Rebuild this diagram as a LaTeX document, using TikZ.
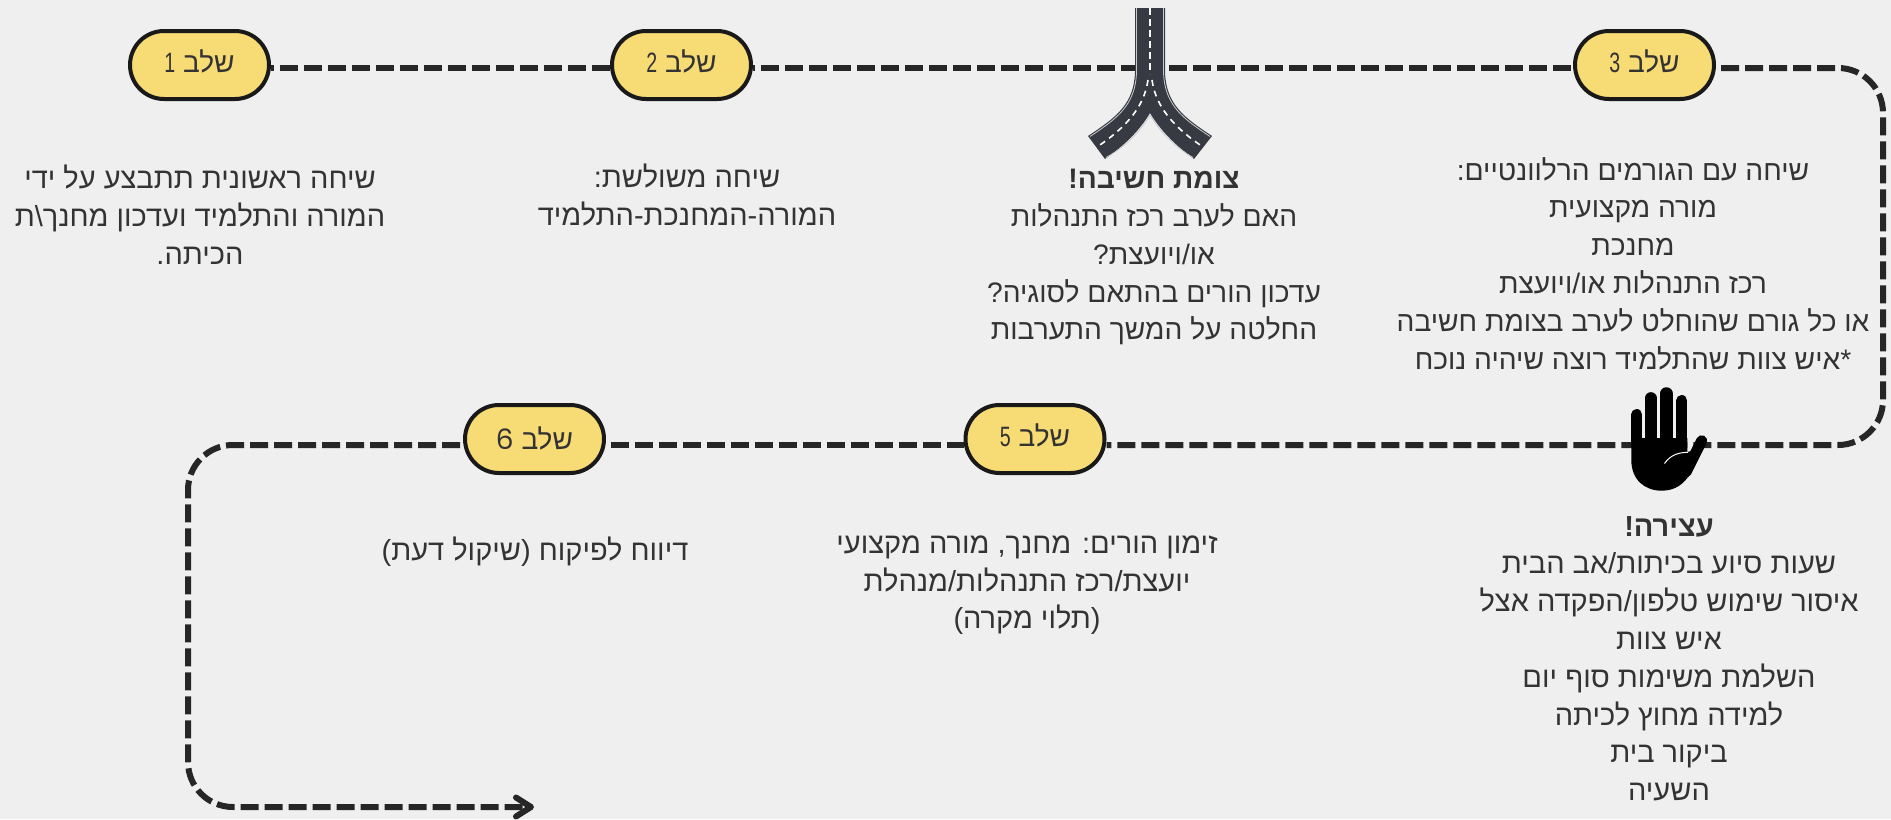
\documentclass[tikz,border=0pt]{standalone}
\usepackage{fontspec}
\usepackage{graphicx}
\setmainfont[Script=Hebrew]{Liberation Sans}
\newfontfamily\sixfont{Poppins}
\TeXXeTstate=1
\usepackage{tikz}
\usetikzlibrary{arrows.meta, backgrounds, positioning}
\definecolor{pagebg}{HTML}{EFEFEF}
\definecolor{pillfill}{HTML}{F7DB75}
\definecolor{inkline}{HTML}{262626}
\definecolor{inktext}{HTML}{333333}
\definecolor{roadbody}{HTML}{373A42}
\definecolor{roadedge}{HTML}{C9CBCF}
\newcommand{\rl}[1]{\beginR#1\endR}
\newcommand{\stepnum}[1]{\scalebox{0.7}[1]{#1}}

\begin{document}
\begin{tikzpicture}[x=1pt, y=-1pt,
    stepnode/.style={draw=black!90, fill=pillfill, line width=4pt, rounded corners=34pt,
        minimum width=139pt, minimum height=68pt, inner sep=0pt, text=inktext,
        text height=17pt, text depth=3pt, font=\fontsize{28}{34}\selectfont},
    infotext/.style={align=center, anchor=north, inner sep=0pt, text=inktext,
        font=\fontsize{29}{37.8}\selectfont},
    infotight/.style={infotext, font=\fontsize{28.2}{37.8}\selectfont},
    flowline/.style={draw=inkline, line width=6pt, dash pattern=on 18pt off 6pt}]
    % Nodes
    \node[stepnode] (s1) at (199.5, 65) {\stepnum{1} \rl{שלב}};
    \node[stepnode] (s2) at (681.5, 65) {\stepnum{2} \rl{שלב}};
    \node[stepnode] (s3) at (1644.5, 65) {\stepnum{3} \rl{שלב}};
    \node[stepnode] (s5) at (1035, 439) {\stepnum{5} \rl{שלב}};
    \node[stepnode, text height=20pt, text depth=0pt] (s6) at (534.5, 439) {{\sixfont 6} \rl{שלב}};

    % Texts
    \node[infotext] (t1) at (200, 165) {\rl{שיחה ראשונית תתבצע על ידי}\\\rl{המורה והתלמיד ועדכון מחנך\textbackslash ת}\\\rl{הכיתה.}};
    \node[infotext] (t2) at (687, 164) {\rl{שיחה משולשת:}\\\rl{המורה-המחנכת-התלמיד}};
    \node[infotight] (t3) at (1154, 169) {\rl{\textbf{צומת חשיבה!}}\\\rl{האם לערב רכז התנהלות}\\\rl{או/ויועצת?}\\\rl{עדכון הורים בהתאם לסוגיה?}\\\rl{החלטה על המשך התערבות}};
    \node[infotight] (t4) at (1633, 157) {\rl{שיחה עם הגורמים הרלוונטיים:}\\\rl{מורה מקצועית}\\\rl{מחנכת}\\\rl{רכז התנהלות או/ויועצת}\\\rl{או כל גורם שהוחלט לערב בצומת חשיבה}\\\rl{*איש צוות שהתלמיד רוצה שיהיה נוכח}};
    \node[infotext] (t5) at (1669, 516) {\rl{\textbf{עצירה!}}\\\rl{שעות סיוע בכיתות/אב הבית}\\\rl{איסור שימוש טלפון/הפקדה אצל}\\\rl{איש צוות}\\\rl{השלמת משימות סוף יום}\\\rl{למידה מחוץ לכיתה}\\\rl{ביקור בית}\\\rl{השעיה}};
    \node[infotext] (t6) at (1027, 535.5) {\rl{זימון הורים: מחנך, מורה מקצועי}\\\rl{יועצת/רכז התנהלות/מנהלת}\\\rl{(תלוי מקרה)}};
    \node[infotext] (t7) at (535, 537) {\rl{דיווח לפיקוח (שיקול דעת)}};

    % Corners of the line
    \coordinate (cornerNE) at (1883, 68);
    \coordinate (cornerSE) at (1883, 445);
    \coordinate (cornerNW) at (188, 445);
    \coordinate (cornerSW) at (188, 807);
    \coordinate (lineend) at (534, 807);

    % Edges
    \begin{scope}[on background layer]
        \fill[pagebg] (0, 0) rectangle (1891, 819);
        \draw[flowline, dash phase=15pt] ([yshift=-3pt]s1.east) -- ([yshift=-3pt]s2.west);
        \draw[flowline, dash phase=16pt] ([yshift=-3pt]s2.east) -- ([yshift=-3pt]s3.west);
        \draw[flowline, dash phase=19pt, rounded corners=45pt] ([yshift=-3pt]s3.east) -- (cornerNE) -- (cornerSE) -- ([yshift=-6pt]s5.east);
        \draw[flowline, dash phase=1pt] ([yshift=-6pt]s5.west) -- ([yshift=-6pt]s6.east);
        \draw[flowline, dash phase=21pt, rounded corners=45pt, -{Straight Barb[length=15pt, width=19pt, round]}] ([yshift=-6pt]s6.west) -- (cornerNW) -- (cornerSW) -- (lineend);
    \end{scope}

    % Road
    \fill[roadbody] (1135, 8) -- (1135, 72) .. controls (1134, 105) and (1115, 118) .. (1088, 136)
        -- (1105, 159) .. controls (1125, 145) and (1140, 130) .. (1150, 113)
        .. controls (1160, 130) and (1175, 145) .. (1194, 159) -- (1212, 136)
        .. controls (1185, 118) and (1166, 105) .. (1165, 72) -- (1165, 8) -- cycle;
    \draw[roadedge, line width=0.8pt] (1136.5, 8) -- (1136.5, 72) .. controls (1135.5, 106) and (1116, 119) .. (1090, 136.5);
    \draw[roadedge, line width=0.8pt] (1163.5, 8) -- (1163.5, 72) .. controls (1164.5, 106) and (1184, 119) .. (1210, 136.5);
    \draw[roadedge, line width=0.8pt] (1150, 115) .. controls (1140, 132) and (1125, 147) .. (1106, 157.5);
    \draw[roadedge, line width=0.8pt] (1150, 115) .. controls (1160, 132) and (1175, 147) .. (1193, 157.5);
    \draw[white, line width=2pt, dash pattern=on 7pt off 4pt] (1150, 8) -- (1150, 74);
    \draw[white, line width=1.6pt, dash pattern=on 6pt off 5pt] (1148, 80) .. controls (1144, 108) and (1125, 128) .. (1097, 147);
    \draw[white, line width=1.6pt, dash pattern=on 6pt off 5pt] (1152, 80) .. controls (1156, 108) and (1175, 128) .. (1203, 147);

    % Hand
    \draw[black, line width=11pt, line cap=round] (1636.8, 414.5) -- (1636.8, 445);
    \draw[black, line width=11.7pt, line cap=round] (1650.8, 398) -- (1650.8, 445);
    \draw[black, line width=12.7pt, line cap=round] (1666.3, 393.6) -- (1666.3, 445);
    \draw[black, line width=11pt, line cap=round] (1681.8, 400.5) -- (1681.8, 445);
    \draw[black, line width=11pt, line cap=round] (1701.7, 440.7) -- (1686, 472);
    \fill[black] (1631.3, 438) -- (1631.3, 460) .. controls (1631.3, 480) and (1645, 490.7) .. (1661.7, 490.7)
        .. controls (1675, 490.7) and (1684, 484) .. (1690, 474) -- (1695, 450) -- (1687.3, 452) -- (1687.3, 438) -- cycle;
    \draw[white, line width=1pt] (1664.5, 463.5) .. controls (1671, 454) and (1680, 452.5) .. (1688, 452.3);
\end{tikzpicture}
\end{document}
